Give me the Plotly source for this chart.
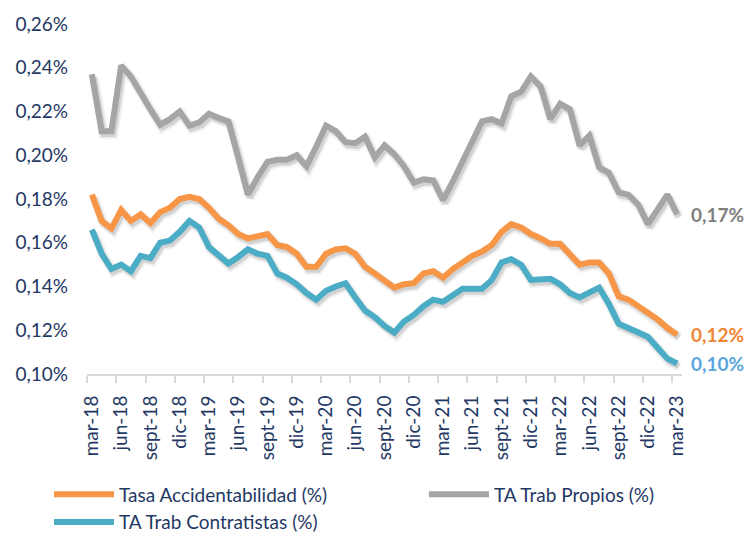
import plotly.graph_objects as go

# ---- data (values in %) ----
tick_labels = ["mar-18", "jun-18", "sept-18", "dic-18", "mar-19", "jun-19", "sept-19",
               "dic-19", "mar-20", "jun-20", "sept-20", "dic-20", "mar-21", "jun-21",
               "sept-21", "dic-21", "mar-22", "jun-22", "sept-22", "dic-22", "mar-23"]

tasa_accidentabilidad = [
    0.182, 0.170, 0.1665, 0.175, 0.170, 0.173, 0.169, 0.174, 0.176, 0.180,
    0.181, 0.180, 0.176, 0.171, 0.168, 0.164, 0.162, 0.163, 0.164, 0.159,
    0.158, 0.155, 0.149, 0.149, 0.155, 0.157, 0.1575, 0.155, 0.149, 0.146,
    0.143, 0.1395, 0.141, 0.1415, 0.146, 0.147, 0.144, 0.148, 0.151, 0.154,
    0.156, 0.159, 0.165, 0.1685, 0.167, 0.164, 0.162, 0.1595, 0.1595, 0.155,
    0.150, 0.151, 0.151, 0.146, 0.1355, 0.134, 0.131, 0.128, 0.125, 0.121,
    0.118]

ta_trab_propios = [
    0.237, 0.211, 0.211, 0.241, 0.236, 0.228, 0.221, 0.214, 0.2165, 0.220,
    0.2135, 0.215, 0.219, 0.217, 0.2155, 0.199, 0.182, 0.190, 0.197, 0.198,
    0.198, 0.200, 0.195, 0.204, 0.2135, 0.211, 0.206, 0.2055, 0.2085, 0.199,
    0.2045, 0.2005, 0.195, 0.1875, 0.189, 0.1885, 0.1795, 0.188, 0.197, 0.207,
    0.2155, 0.2165, 0.2145, 0.227, 0.229, 0.236, 0.2315, 0.2165, 0.2235, 0.221,
    0.2045, 0.209, 0.1945, 0.192, 0.183, 0.182, 0.1775, 0.1685, 0.175, 0.182,
    0.173]

ta_trab_contratistas = [
    0.166, 0.155, 0.148, 0.150, 0.147, 0.154, 0.153, 0.160, 0.161, 0.165,
    0.170, 0.167, 0.158, 0.1545, 0.1505, 0.1535, 0.157, 0.155, 0.154, 0.146,
    0.144, 0.141, 0.137, 0.134, 0.138, 0.140, 0.1415, 0.135, 0.129, 0.126,
    0.122, 0.119, 0.124, 0.127, 0.131, 0.134, 0.133, 0.136, 0.139, 0.139,
    0.139, 0.143, 0.151, 0.1525, 0.150, 0.143, 0.143, 0.1435, 0.141, 0.137,
    0.135, 0.137, 0.1395, 0.132, 0.123, 0.121, 0.119, 0.117, 0.112, 0.107,
    0.1048]

y_ticks = [0.10, 0.12, 0.14, 0.16, 0.18, 0.20, 0.22, 0.24, 0.26]

# ---- styling ----
FONT = "Lato"
TXT = "#1F3864"
AXIS = "#D9D9D9"
series = [
    ("Tasa Accidentabilidad (%)", tasa_accidentabilidad, "#F79646", "#EF8535", "legend"),
    ("TA Trab Propios (%)", ta_trab_propios, "#A5A5A5", "#808080", "legend2"),
    ("TA Trab Contratistas (%)", ta_trab_contratistas, "#4BACC6", "#5AA5DD", "legend"),
]

n = len(tasa_accidentabilidad)
xs = list(range(n))
label_pos = xs[::3]
boundaries = [p - 0.5 for p in label_pos]

M_L, M_R, M_T, M_B = 87, 67, 15, 159
y0, y1 = y_ticks[0], y_ticks[-1]
x0, x1 = -0.5, n - 0.5
plot_h = 533 - M_T - M_B
plot_w = 749 - M_L - M_R
dy = 3.0 * (y1 - y0) / plot_h
dx = 2.0 * (x1 - x0) / plot_w

fig = go.Figure()

# shadows (on offset overlay axes)
for name, vals, col, lab, lg in series:
    fig.add_trace(go.Scatter(x=xs, y=vals, mode="lines", xaxis="x2", yaxis="y2",
                             line=dict(color="rgba(0,0,0,0.06)", width=10),
                             hoverinfo="skip", showlegend=False))
    fig.add_trace(go.Scatter(x=xs, y=vals, mode="lines", xaxis="x2", yaxis="y2",
                             line=dict(color="rgba(0,0,0,0.12)", width=6),
                             hoverinfo="skip", showlegend=False))

# real lines
for name, vals, col, lab, lg in series:
    fig.add_trace(go.Scatter(x=xs, y=vals, mode="lines", name=name, xaxis="x3", yaxis="y3",
                             line=dict(color=col, width=6), legend=lg))

# end labels
for name, vals, col, lab, lg in series:
    fig.add_annotation(x=xs[-1], y=vals[-1], xref="x", yref="y",
                       text=("%.2f%%" % vals[-1]).replace(".", ","),
                       showarrow=False, xanchor="left", yanchor="middle", xshift=12,
                       font=dict(family=FONT, size=19, color=lab, weight="bold"))

legend_common = dict(orientation="h", xref="container", yref="container",
                     xanchor="left", yanchor="top", itemwidth=60,
                     font=dict(family=FONT, size=19, color=TXT),
                     bgcolor="rgba(0,0,0,0)", tracegroupgap=0)

fig.update_layout(
    width=749, height=533,
    margin=dict(l=M_L, r=M_R, t=M_T, b=M_B),
    paper_bgcolor="white", plot_bgcolor="white",
    font=dict(family=FONT, size=19, color=TXT),
    xaxis=dict(range=[x0, x1], tickmode="array", tickvals=label_pos, ticktext=tick_labels,
               tickangle=-90, ticks="", showgrid=False, zeroline=False,
               showline=True, linecolor=AXIS, linewidth=2,
               ticklabelstandoff=12,
               tickfont=dict(family=FONT, size=19, color=TXT),
               minor=dict(tickmode="array", tickvals=boundaries, ticks="outside",
                          ticklen=7, tickwidth=2, tickcolor=AXIS, showgrid=False)),
    yaxis=dict(range=[y0, y1], tickmode="array", tickvals=y_ticks,
               ticktext=[("%.2f%%" % v).replace(".", ",") for v in y_ticks],
               ticks="", showgrid=False, zeroline=False, showline=False,
               ticklabelstandoff=18,
               tickfont=dict(family=FONT, size=19, color=TXT)),
    xaxis2=dict(range=[x0 - dx, x1 - dx], overlaying="x", visible=False),
    yaxis2=dict(range=[y0 + dy, y1 + dy], overlaying="y", visible=False),
    xaxis3=dict(range=[x0, x1], overlaying="x", visible=False),
    yaxis3=dict(range=[y0, y1], overlaying="y", visible=False),
    legend=dict(x=0.0654, y=0.108, entrywidth=330, **legend_common),
    legend2=dict(x=0.566, y=0.108, **legend_common),
    showlegend=True,
)

fig.write_html("out.html", config={"displayModeBar": False},
               post_script="document.body.style.margin='0px';")
